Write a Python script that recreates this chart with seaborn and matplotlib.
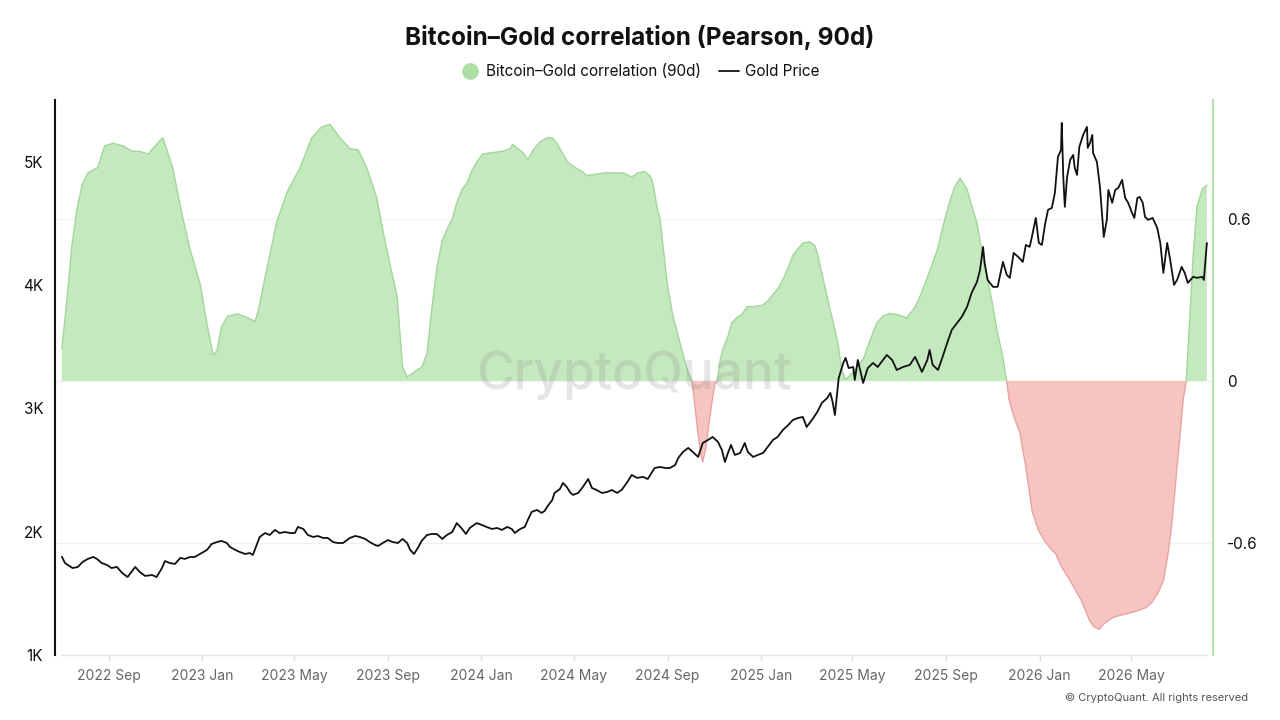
import numpy as np
import pandas as pd
import matplotlib
matplotlib.use("Agg")
import matplotlib.pyplot as plt
import matplotlib.dates as mdates
from matplotlib.lines import Line2D
from matplotlib.patches import Rectangle
import seaborn as sns

# ---------------- data ----------------
START = pd.Timestamp("2022-07-01")   # day 0 of the day lists below

corr_day = [
    0, 8, 13, 20, 27, 34, 47, 56, 67, 80,
    92, 102, 113, 119, 132, 137, 145, 157, 168, 181,
    190, 198, 203, 209, 217, 230, 242, 253, 257, 268,
    281, 295, 312, 327, 340, 351, 364, 377, 388, 399,
    412, 420, 429, 439, 446, 452, 460, 469, 471, 478,
    484, 491, 498, 504, 511, 517, 524, 530, 537, 543,
    551, 563, 577, 587, 590, 597, 604, 610, 617, 626,
    635, 642, 648, 655, 662, 672, 681, 687, 698, 711,
    724, 735, 746, 754, 763, 770, 774, 779, 783, 787,
    793, 800, 807, 813, 820, 825, 829, 833, 837, 839,
    843, 847, 851, 855, 858, 862, 865, 872, 877, 884,
    890, 897, 905, 917, 924, 931, 937, 944, 951, 957,
    964, 970, 979, 986, 990, 996, 1002, 1009, 1016, 1021,
    1026, 1032, 1038, 1045, 1049, 1058, 1067, 1075, 1084, 1095,
    1106, 1116, 1123, 1134, 1146, 1156, 1163, 1169, 1176, 1185,
    1191, 1198, 1204, 1211, 1218, 1224, 1231, 1237, 1240, 1246,
    1254, 1262, 1270, 1278, 1286, 1294, 1301, 1309, 1318, 1326,
    1334, 1340, 1345, 1351, 1358, 1364, 1371, 1377, 1383, 1390,
    1398, 1409, 1419, 1427, 1435, 1442, 1447, 1452, 1457, 1462,
    1468, 1472, 1475, 1481, 1486, 1493, 1499,
]
corr_value = [
    0.12, 0.34, 0.50, 0.64, 0.73, 0.77, 0.79, 0.87, 0.88, 0.87,
    0.85, 0.85, 0.84, 0.86, 0.90, 0.86, 0.79, 0.62, 0.485, 0.36,
    0.21, 0.096, 0.11, 0.20, 0.24, 0.248, 0.235, 0.22, 0.26, 0.41,
    0.585, 0.70, 0.79, 0.90, 0.94, 0.95, 0.90, 0.86, 0.855, 0.79,
    0.68, 0.56, 0.44, 0.31, 0.05, 0.015, 0.03, 0.048, 0.05, 0.10,
    0.26, 0.42, 0.52, 0.56, 0.60, 0.66, 0.71, 0.73, 0.78, 0.81,
    0.84, 0.845, 0.85, 0.86, 0.875, 0.86, 0.845, 0.82, 0.855, 0.885,
    0.90, 0.90, 0.88, 0.845, 0.81, 0.79, 0.775, 0.76, 0.765, 0.77,
    0.77, 0.77, 0.755, 0.77, 0.775, 0.76, 0.73, 0.645, 0.60, 0.50,
    0.35, 0.24, 0.165, 0.10, 0.03, 0.0, -0.10, -0.20, -0.28, -0.30,
    -0.25, -0.16, -0.08, -0.01, 0.0, 0.08, 0.115, 0.165, 0.215, 0.235,
    0.245, 0.275, 0.275, 0.28, 0.295, 0.32, 0.34, 0.375, 0.42, 0.465,
    0.49, 0.51, 0.515, 0.50, 0.46, 0.385, 0.31, 0.225, 0.14, 0.04,
    0.005, 0.02, 0.04, 0.067, 0.08, 0.15, 0.215, 0.24, 0.25, 0.245,
    0.233, 0.27, 0.31, 0.39, 0.485, 0.60, 0.67, 0.72, 0.75, 0.71,
    0.65, 0.585, 0.49, 0.385, 0.29, 0.19, 0.10, 0.0, -0.07, -0.13,
    -0.19, -0.32, -0.48, -0.55, -0.59, -0.62, -0.64, -0.69, -0.73, -0.77,
    -0.81, -0.85, -0.885, -0.91, -0.92, -0.90, -0.885, -0.875, -0.87, -0.865,
    -0.86, -0.85, -0.84, -0.82, -0.785, -0.74, -0.66, -0.56, -0.41, -0.255,
    -0.07, 0.0, 0.15, 0.46, 0.645, 0.71, 0.725,
]

gold_day = [
    0, 4, 8, 14, 21, 27, 34, 41, 46, 52,
    59, 65, 72, 79, 86, 96, 102, 109, 118, 124,
    131, 135, 141, 148, 155, 161, 168, 174, 183, 190,
    196, 203, 209, 216, 220, 227, 233, 240, 246, 250,
    255, 259, 266, 272, 279, 285, 292, 299, 305, 309,
    316, 322, 329, 335, 342, 348, 355, 361, 368, 377,
    384, 390, 397, 403, 410, 414, 420, 427, 433, 440,
    446, 452, 456, 461, 466, 471, 478, 484, 491, 498,
    504, 511, 517, 524, 529, 534, 543, 550, 556, 563,
    570, 576, 583, 589, 593, 600, 606, 610, 615, 622,
    628, 632, 636, 642, 645, 652, 656, 661, 665, 669,
    676, 682, 689, 694, 700, 707, 714, 720, 727, 733,
    740, 746, 753, 761, 767, 776, 783, 790, 796, 803,
    807, 813, 820, 826, 833, 839, 846, 852, 859, 864,
    868, 872, 876, 881, 888, 894, 898, 905, 911, 918,
    924, 931, 937, 944, 951, 957, 964, 970, 975, 982,
    989, 995, 1002, 1006, 1009, 1012, 1015, 1017, 1023, 1026,
    1030, 1036, 1038, 1042, 1049, 1055, 1062, 1068, 1075, 1080,
    1087, 1093, 1101, 1110, 1117, 1126, 1133, 1136, 1140, 1147,
    1153, 1159, 1165, 1172, 1178, 1185, 1191, 1198, 1202, 1206,
    1208, 1212, 1219, 1225, 1232, 1237, 1241, 1246, 1252, 1258,
    1262, 1267, 1271, 1275, 1279, 1283, 1287, 1291, 1296, 1300,
    1304, 1308, 1309, 1311, 1313, 1316, 1320, 1324, 1326, 1329,
    1332, 1337, 1342, 1343, 1346, 1349, 1350, 1355, 1359, 1362,
    1364, 1368, 1370, 1375, 1379, 1383, 1388, 1392, 1396, 1401,
    1404, 1408, 1411, 1415, 1418, 1422, 1428, 1434, 1438, 1442,
    1447, 1451, 1456, 1460, 1466, 1470, 1474, 1481, 1486, 1493,
    1495, 1499,
]
gold_price = [
    1797, 1746, 1730, 1705, 1714, 1754, 1779, 1795, 1779, 1746,
    1730, 1705, 1714, 1665, 1632, 1714, 1673, 1641, 1649, 1632,
    1705, 1762, 1746, 1738, 1787, 1779, 1795, 1795, 1827, 1852,
    1900, 1916, 1925, 1908, 1876, 1852, 1835, 1819, 1827, 1811,
    1892, 1957, 1989, 1973, 2014, 1989, 1997, 1989, 1989, 2038,
    2022, 1973, 1957, 1965, 1949, 1949, 1916, 1908, 1908, 1949,
    1965, 1957, 1941, 1916, 1892, 1884, 1908, 1932, 1916, 1908,
    1941, 1908, 1852, 1819, 1868, 1925, 1973, 1981, 1981, 1941,
    1973, 1997, 2070, 2022, 1981, 2030, 2070, 2054, 2038, 2022,
    2030, 2014, 2038, 2022, 1989, 2022, 2038, 2095, 2160, 2176,
    2152, 2168, 2208, 2257, 2314, 2346, 2395, 2362, 2322, 2298,
    2314, 2362, 2427, 2354, 2338, 2314, 2322, 2338, 2314, 2340,
    2400, 2460, 2436, 2444, 2427, 2516, 2525, 2516, 2516, 2541,
    2598, 2646, 2679, 2646, 2606, 2719, 2744, 2768, 2727, 2663,
    2565, 2638, 2703, 2622, 2638, 2719, 2646, 2606, 2622, 2638,
    2687, 2744, 2768, 2825, 2865, 2906, 2922, 2930, 2849, 2906,
    2971, 3044, 3084, 3125, 3052, 2946, 3125, 3246, 3368, 3409,
    3327, 3335, 3230, 3392, 3206, 3327, 3368, 3335, 3392, 3433,
    3392, 3311, 3335, 3352, 3417, 3295, 3392, 3474, 3352, 3311,
    3417, 3530, 3636, 3693, 3741, 3822, 3936, 4025, 4122, 4309,
    4179, 4041, 3985, 3985, 4187, 4082, 4058, 4260, 4228, 4187,
    4325, 4309, 4422, 4544, 4341, 4325, 4487, 4609, 4625, 4747,
    5039, 5095, 5314, 4877, 4634, 4877, 5014, 5055, 4950, 4893,
    5120, 5217, 5282, 5112, 5152, 5217, 5071, 4998, 4795, 4552,
    4390, 4528, 4771, 4666, 4771, 4787, 4852, 4706, 4666, 4585,
    4544, 4706, 4714, 4666, 4552, 4528, 4544, 4463, 4341, 4098,
    4341, 4203, 4001, 4041, 4147, 4098, 4017, 4066, 4058, 4066,
    4041, 4341,
]

x_tick_dates = pd.date_range("2022-09-01", "2026-05-01", freq="4MS")
gold_ticks = [1000, 2000, 3000, 4000, 5000]
gold_tick_labels = ["1K", "2K", "3K", "4K", "5K"]
corr_ticks = [-0.6, 0.0, 0.6]
corr_tick_labels = ["-0.6", "0", "0.6"]

TITLE = "Bitcoin\u2013Gold correlation (Pearson, 90d)"
CORR_LABEL = "Bitcoin\u2013Gold correlation (90d)"
GOLD_LABEL = "Gold Price"

# ---------------- style ----------------
sns.set_theme(style="white")
plt.rcParams["font.family"] = ["Inter", "DejaVu Sans"]

GREEN_FILL = "#c5e9be"
GREEN_EDGE = "#a2d69a"
RED_FILL = "#f6c4c1"
RED_EDGE = "#e8a3a0"

cd = START + pd.to_timedelta(corr_day, unit="D")
cv = np.array(corr_value, dtype=float)
gd = START + pd.to_timedelta(gold_day, unit="D")
gp = np.array(gold_price, dtype=float)

fig = plt.figure(figsize=(12.8, 7.2), dpi=100)
ax = fig.add_axes([55 / 1280, 65 / 720, 1158 / 1280, 555 / 720])

# correlation (right axis)
ax.fill_between(cd, 0, cv, where=cv >= 0, interpolate=True,
                color=GREEN_FILL, linewidth=0, zorder=1)
ax.fill_between(cd, 0, cv, where=cv <= 0, interpolate=True,
                color=RED_FILL, linewidth=0, zorder=1)
sns.lineplot(x=cd, y=cv, ax=ax, color=GREEN_EDGE, linewidth=1.0,
             sort=False, estimator=None, zorder=2)
green_line = ax.lines[-1]
sns.lineplot(x=cd, y=cv, ax=ax, color=RED_EDGE, linewidth=1.0,
             sort=False, estimator=None, zorder=2)
red_line = ax.lines[-1]

x0 = START - pd.Timedelta(days=9)
x1 = START + pd.Timedelta(days=1507)
ax.set_xlim(x0, x1)
ax.set_ylim(-1.015, 1.04)

n0, n1 = mdates.date2num(x0), mdates.date2num(x1)
green_line.set_clip_path(Rectangle((n0, 0), n1 - n0, 5, transform=ax.transData))
red_line.set_clip_path(Rectangle((n0, -5), n1 - n0, 5, transform=ax.transData))

ax.set_yticks(corr_ticks)
ax.set_yticklabels(corr_tick_labels)
ax.yaxis.grid(True, color="#f1f1f1", linewidth=1.0)
ax.xaxis.grid(False)
ax.set_axisbelow(True)

# gold (left axis, drawn on top)
ax2 = ax.twinx()
sns.lineplot(x=gd, y=gp, ax=ax2, color="#111111", linewidth=1.3,
             sort=False, estimator=None, zorder=3)
ax2.set_ylim(1000, 5500)
ax2.set_yticks(gold_ticks)
ax2.set_yticklabels(gold_tick_labels)
ax2.grid(False)

ax.yaxis.tick_right()
ax2.yaxis.tick_left()
for a in (ax, ax2):
    a.set_xlabel("")
    a.set_ylabel("")

# x axis
ax.set_xticks(x_tick_dates)
ax.xaxis.set_major_formatter(mdates.DateFormatter("%Y %b"))
ax.tick_params(axis="x", bottom=True, length=4, width=1, color="#e0e0e0",
               labelcolor="#666666", labelsize=10, pad=6)
ax.tick_params(axis="y", right=True, left=False, length=0, labelsize=11,
               labelcolor="#111111", pad=10)
ax2.tick_params(axis="y", left=True, right=False, length=0, labelsize=11,
                labelcolor="#111111", pad=8.5)

# spines
ax.spines["top"].set_visible(False)
ax.spines["left"].set_visible(False)
ax.spines["right"].set_color("#b8e1b1")
ax.spines["right"].set_linewidth(1.5)
ax.spines["bottom"].set_color("#e3e3e3")
ax.spines["bottom"].set_linewidth(1.0)
ax.spines["bottom"].set_bounds(mdates.date2num(cd[0]), mdates.date2num(cd[-1]))
for s in ("top", "right", "bottom"):
    ax2.spines[s].set_visible(False)
ax2.spines["left"].set_visible(True)
ax2.spines["left"].set_color("#111111")
ax2.spines["left"].set_linewidth(1.5)

# title & legend
fig.text(0.5, 1 - 37 / 720, TITLE, ha="center", va="center",
         fontsize=17.5, fontweight="bold", color="#111111")
handles = [
    Line2D([], [], marker="o", linestyle="none", markersize=11,
           markerfacecolor="#addfa5", markeredgecolor="#addfa5"),
    Line2D([], [], color="#111111", linewidth=1.3),
]
fig.legend(handles, [CORR_LABEL, GOLD_LABEL], loc="center",
           bbox_to_anchor=(0.5, 1 - 72 / 720), ncol=2, frameon=False,
           fontsize=11, handlelength=1.3, handletextpad=0.4,
           columnspacing=1.2, labelcolor="#111111")

# watermark & copyright
fig.text(634 / 1280, 1 - 375 / 720, "CryptoQuant", ha="center", va="center",
         fontsize=37, fontweight="medium", color="#8a8a8a", alpha=0.22)
fig.text(1248 / 1280, 1 - 698 / 720, "\u00a9 CryptoQuant. All rights reserved",
         ha="right", va="center", fontsize=8, color="#555555")

fig.savefig("out.png", dpi=100)
